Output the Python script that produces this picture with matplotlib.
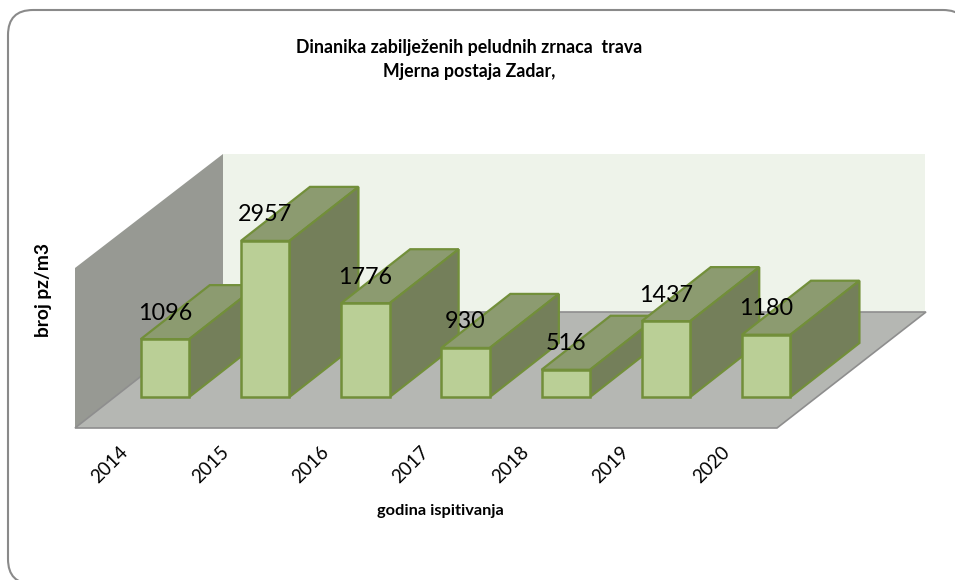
import matplotlib
matplotlib.use("Agg")
from matplotlib import pyplot as plt
from matplotlib.patches import FancyBboxPatch, Polygon
from matplotlib.transforms import IdentityTransform

years = ["2014", "2015", "2016", "2017", "2018", "2019", "2020"]
counts = [1096, 2957, 1776, 930, 516, 1437, 1180]

title = "Dinanika zabilježenih peludnih zrnaca  trava\nMjerna postaja Zadar,"
x_label = "godina ispitivanja"
y_label = "broj pz/m3"

plt.rcParams["font.family"] = ["Lato", "DejaVu Sans"]

WIDTH = 955
HEIGHT = 580
X_FIRST = 165.0   # pixel centre of the first bar
X_STEP = 100.2    # pixels between bars
Y_ZERO = 397.0    # pixel row of value 0
Y_SCALE = 0.0528  # pixels per pollen count
BAR_W = 48.5 / X_STEP
DEPTH_X = 69 / X_STEP
DEPTH_Y = 54 / Y_SCALE

fig = plt.figure(figsize=(WIDTH / 100, HEIGHT / 100), dpi=100)
ax = fig.add_axes([0, 0, 1, 1])
ax.set_xlim(-X_FIRST / X_STEP, (WIDTH - X_FIRST) / X_STEP)
ax.set_ylim(-(HEIGHT - Y_ZERO) / Y_SCALE, Y_ZERO / Y_SCALE)
ax.axis("off")


def pix(x, y):
    # pixel position in the reference -> data position of the axes
    return ((x - X_FIRST) / X_STEP, (Y_ZERO - y) / Y_SCALE)


def pix_poly(points, **kwargs):
    ax.add_patch(Polygon([pix(x, y) for x, y in points], closed=True, **kwargs))


# outer rounded frame in figure pixels, its right and bottom sides run off the picture
frame = FancyBboxPatch((8, -4), 960, 574, boxstyle="round,pad=0,rounding_size=25",
                       transform=IdentityTransform(), facecolor="white", edgecolor="#8A8A8A", linewidth=1.5)
ax.add_patch(frame)

# walls and floor
pix_poly([(223, 154), (925, 154), (925, 312), (223, 312)], facecolor="#EEF3EA", edgecolor="none", zorder=1)
pix_poly([(75, 268), (223, 154), (223, 312), (75, 428)], facecolor="#979993", edgecolor="none", zorder=1)
pix_poly([(75, 428), (223, 312), (926, 312), (777, 428)], facecolor="#B5B7B3", edgecolor="#8E8E8E",
         linewidth=1.2, zorder=2)

# bars, left to right so that the later ones cover the earlier ones
edge = "#728F3A"
for i, value in enumerate(counts):
    z = 3 + i
    left = i - BAR_W / 2
    right = i + BAR_W / 2
    ax.add_patch(Polygon([(left, value), (right, value), (right + DEPTH_X, value + DEPTH_Y),
                          (left + DEPTH_X, value + DEPTH_Y)], facecolor="#8C9B70",
                         edgecolor=edge, linewidth=1.6, zorder=z))
    ax.add_patch(Polygon([(right, 0), (right, value), (right + DEPTH_X, value + DEPTH_Y),
                          (right + DEPTH_X, DEPTH_Y)], facecolor="#747F5A",
                         edgecolor=edge, linewidth=1.6, zorder=z))
    ax.bar(i, value, width=BAR_W, color="#BACF96", edgecolor=edge, linewidth=1.8, zorder=z)

# value labels sit a fixed distance above the bar top
for i, value in enumerate(counts):
    ax.text(i, value + 26 / Y_SCALE, str(value), ha="center", va="center", fontsize=16.8,
            color="black", zorder=20)

# year labels
for i, year in enumerate(years):
    ax.text(i - 55 / X_STEP, -68 / Y_SCALE, year, rotation=45, ha="center", va="center",
            rotation_mode="anchor", fontsize=13.5, color="black", zorder=20)

tx, ty = pix(469, 59)
ax.text(tx, ty, title, ha="center", va="center", fontsize=12.8, fontweight="bold", linespacing=1.5, zorder=20)
tx, ty = pix(440, 511)
ax.text(tx, ty, x_label, ha="center", va="center", fontsize=11.8, fontweight="bold", zorder=20)
tx, ty = pix(43, 290)
ax.text(tx, ty, y_label, ha="center", va="center", rotation=90, fontsize=13.8, fontweight="bold", zorder=20)

fig.savefig("out.png", dpi=100)
